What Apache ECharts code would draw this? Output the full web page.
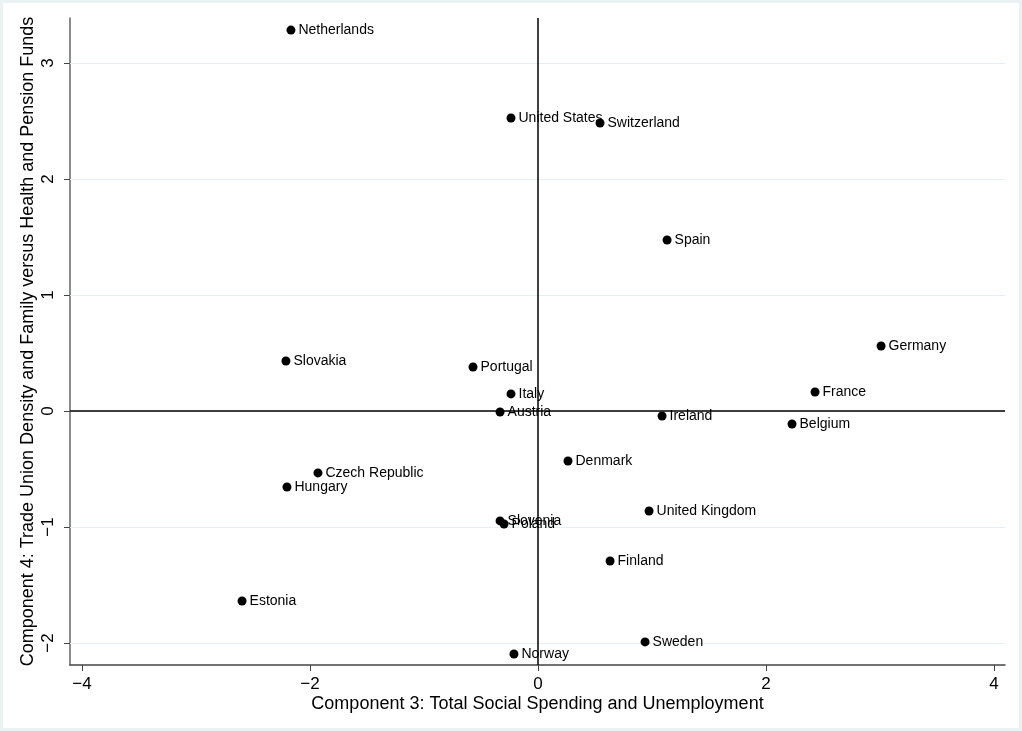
<!DOCTYPE html>
<html>
<head>
<meta charset="utf-8">
<script src="https://cdn.jsdelivr.net/npm/echarts@6/dist/echarts.min.js"></script>
<style>
html,body{margin:0;padding:0;background:#fff;}
#chart{width:1022px;height:731px;position:absolute;left:0;top:0;}
#frame{position:absolute;left:0;top:0;width:1022px;height:731px;box-sizing:border-box;border:3px solid #eaf2f3;pointer-events:none;}
</style>
</head>
<body>
<div id="chart"></div>
<div id="frame"></div>
<script>
const countries = ["Netherlands","United States","Switzerland","Spain","Germany","Slovakia","Portugal","Italy","France","Austria","Ireland","Belgium","Denmark","Czech Republic","Hungary","Slovenia","Poland","United Kingdom","Finland","Estonia","Sweden","Norway"];
const comp3 = [-2.167,-0.237,0.544,1.132,3.009,-2.211,-0.570,-0.237,2.430,-0.333,1.088,2.228,0.263,-1.930,-2.202,-0.333,-0.298,0.974,0.632,-2.596,0.939,-0.211];
const comp4 = [3.284,2.526,2.483,1.474,0.560,0.431,0.379,0.147,0.164,-0.009,-0.043,-0.112,-0.431,-0.534,-0.655,-0.948,-0.974,-0.862,-1.293,-1.638,-1.991,-2.095];
const xTicks = [-4,-2,0,2,4];
const yTicks = [-2,-1,0,1,2,3];
const xTitle = "Component 3: Total Social Spending and Unemployment";
const yTitle = "Component 4: Trade Union Density and Family versus Health and Pension Funds";

const FONT = "Liberation Sans, Arial, Helvetica, sans-serif";
const data = countries.map((c,i)=>({name:c,value:[comp3[i],comp4[i]]}));

const chart = echarts.init(document.getElementById('chart'), null, {renderer:'canvas'});
chart.setOption({
  backgroundColor:'#ffffff',
  animation:false,
  grid:{left:70,right:17,top:18,bottom:66,containLabel:false},
  xAxis:{
    type:'value', min:-4.105, max:4.096,
    name:xTitle, nameLocation:'middle', nameGap:30, nameMoveOverlap:false,
    nameTextStyle:{fontFamily:FONT,fontSize:18,color:'#000'},
    axisLine:{show:true,onZero:false,lineStyle:{color:'#444',width:1.5}},
    axisTick:{show:true,length:6,customValues:xTicks,lineStyle:{color:'#444'}},
    axisLabel:{customValues:xTicks,fontFamily:FONT,fontSize:17,color:'#000',margin:11,
      formatter:v=>String(v).replace('-','\u2212')},
    splitLine:{show:false}
  },
  yAxis:{
    type:'value', min:-2.19, max:3.388,
    name:yTitle, nameLocation:'middle', nameGap:33, nameRotate:90, nameMoveOverlap:false,
    nameTextStyle:{fontFamily:FONT,fontSize:18,color:'#000'},
    axisLine:{show:true,onZero:false,lineStyle:{color:'#666',width:1.5}},
    axisTick:{show:true,length:6,customValues:yTicks,lineStyle:{color:'#444'}},
    axisLabel:{customValues:yTicks,rotate:90,fontFamily:FONT,fontSize:17,color:'#000',margin:13,
      formatter:v=>String(v).replace('-','\u2212')},
    splitLine:{show:false}
  },
  series:[
    {
      type:'scatter',
      data:data,
      symbol:'circle',
      symbolSize:9,
      itemStyle:{color:'#000',opacity:1},
      label:{show:true,position:'right',distance:3,formatter:p=>p.name,
        fontFamily:FONT,fontSize:14,color:'#000'},
      emphasis:{disabled:true},
      markLine:{
        silent:true, symbol:'none', animation:false,
        label:{show:false},
        data:[
          ...yTicks.map(v=>({yAxis:v,lineStyle:{color:'#e6f0f2',width:1,type:'solid'}})),
          {xAxis:0,lineStyle:{color:'#000',width:1.5,type:'solid'}},
          {yAxis:0,lineStyle:{color:'#000',width:1.5,type:'solid'}}
        ]
      },
      z:5
    }
  ]
});
</script>
</body>
</html>
